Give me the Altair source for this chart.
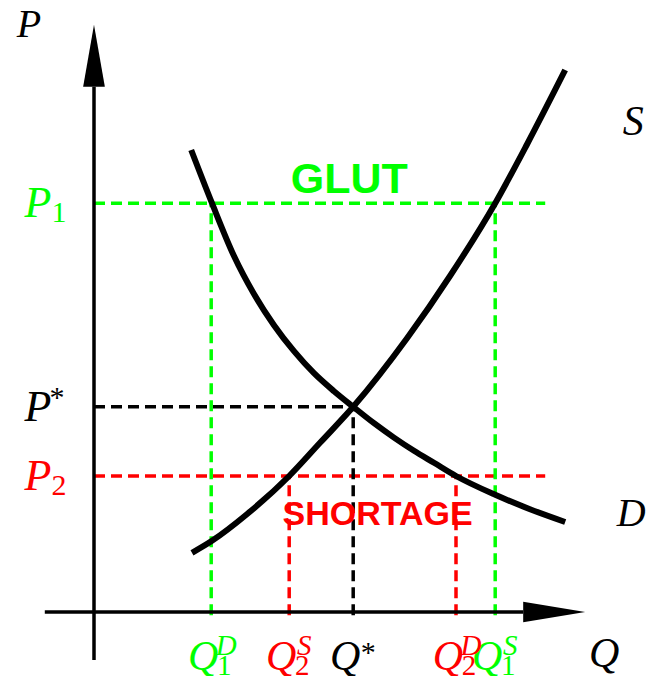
import altair as alt
import pandas as pd

# ---- data (economic units) ----
q_vals = [2.93, 4.88, 6.48, 9.05, 10.03]          # Q1D, Q2S, Q*, Q2D, Q1S
q_sup = ["D", "S", "*", "D", "S"]
q_sub = ["1", "2", "", "2", "1"]
q_colors = ["#00ff00", "#ff0000", "#000000", "#ff0000", "#00ff00"]
q_top = [10.22, 3.4, 5.13, 3.4, 10.22]            # price each quantity belongs to

p_vals = [10.22, 5.13, 3.4]                        # P1, P*, P2
p_sup = ["", "*", ""]
p_sub = ["1", "", "2"]
p_colors = ["#00ff00", "#000000", "#ff0000"]
p_right = [11.28, 6.48, 11.28]                     # right end of the price lines

demand_q = [2.43, 2.95, 3.5, 4.0, 4.5, 5.0, 5.5, 6.0, 6.48, 7.0, 7.5, 8.0, 8.5, 9.05, 10.03, 10.9, 11.78]
demand_p = [11.55, 10.22, 8.9, 7.95, 7.17, 6.52, 5.97, 5.52, 5.13, 4.72, 4.36, 4.03, 3.73, 3.4, 2.93, 2.57, 2.25]
supply_q = [2.45, 2.95, 3.83, 4.88, 5.65, 6.48, 7.83, 8.9, 10.03, 10.83, 11.78]
supply_p = [1.48, 1.78, 2.45, 3.4, 4.23, 5.13, 6.85, 8.4, 10.22, 11.7, 13.55]

axis_q_min, axis_q_tip = -1.23, 12.28
axis_p_min, axis_p_tip = -1.2, 14.68

GREEN, RED, BLACK = "#00ff00", "#ff0000", "#000000"
SERIF = "Liberation Serif"
SANS = "Liberation Sans"

xs = alt.Scale(domain=[-2.15, 13.8], nice=False, zero=False)
ys = alt.Scale(domain=[-1.6, 15.1], nice=False, zero=False)

def X(f):
    return alt.X(f, type="quantitative", scale=xs, axis=None)

def Y(f):
    return alt.Y(f, type="quantitative", scale=ys, axis=None)

qdf = pd.DataFrame({"q": q_vals, "sup": q_sup, "sub": q_sub, "c": q_colors,
                    "top": q_top, "zero": [-0.08] * 5, "main": ["Q"] * 5})
pdf = pd.DataFrame({"p": p_vals, "sup": p_sup, "sub": p_sub, "c": p_colors,
                    "right": p_right, "zero": [0.0] * 3, "main": ["P"] * 3})

curves = pd.concat([
    pd.DataFrame({"q": demand_q, "p": demand_p, "curve": "D", "i": range(len(demand_q))}),
    pd.DataFrame({"q": supply_q, "p": supply_p, "curve": "S", "i": range(len(supply_q))}),
])

dash = [11, 6]

hlines = alt.Chart(pdf).mark_rule(strokeWidth=3.5, strokeDash=dash).encode(
    x=X("zero"), x2="right", y=Y("p"), color=alt.Color("c:N", scale=None))
vlines = alt.Chart(qdf).mark_rule(strokeWidth=3.5, strokeDash=dash).encode(
    x=X("q"), y=Y("zero"), y2="top", color=alt.Color("c:N", scale=None))

lines = alt.Chart(curves).mark_line(strokeWidth=6, color=BLACK, interpolate="monotone",
                                    strokeCap="butt").encode(
    x=X("q"), y=Y("p"), detail="curve:N", order="i:Q")

axes_df = pd.DataFrame({"x1": [0, axis_q_min], "x2": [0, axis_q_tip - 1.55],
                        "y1": [axis_p_min, 0], "y2": [axis_p_tip - 1.55, 0]})
axes = alt.Chart(axes_df).mark_rule(strokeWidth=3.5, color=BLACK).encode(
    x=X("x1"), x2="x2", y=Y("y1"), y2="y2")

arrow_up = alt.Chart(pd.DataFrame({"x": [0], "y": [axis_p_tip - 0.775]})).mark_point(
    shape="M0,-1L0.35,1L-0.35,1Z", size=3844, filled=True, opacity=1, color=BLACK,
    strokeWidth=0).encode(x=X("x"), y=Y("y"))
arrow_right = alt.Chart(pd.DataFrame({"x": [axis_q_tip - 0.775], "y": [0]})).mark_point(
    shape="M1,0L-1,0.33L-1,-0.33Z", size=3844, filled=True, opacity=1, color=BLACK,
    strokeWidth=0).encode(x=X("x"), y=Y("y"))

# ---- labels on Q axis ----
q_main_t = alt.Chart(qdf).mark_text(font=SERIF, fontStyle="italic", fontSize=42,
                                    align="center", baseline="alphabetic", dx=-8, dy=55).encode(
    x=X("q"), y=Y("zero"), text="main:N", color=alt.Color("c:N", scale=None))
q_sup_t = alt.Chart(qdf).transform_filter("datum.sup != '*'").mark_text(
    font=SERIF, fontStyle="italic", fontSize=29, align="center", baseline="alphabetic",
    dx=15, dy=40).encode(x=X("q"), y=Y("zero"), text="sup:N", color=alt.Color("c:N", scale=None))
q_star_t = alt.Chart(qdf).transform_filter("datum.sup == '*'").mark_text(
    font=SERIF, fontSize=30, align="center", baseline="alphabetic",
    dx=15, dy=47).encode(x=X("q"), y=Y("zero"), text="sup:N", color=alt.Color("c:N", scale=None))
q_sub_t = alt.Chart(qdf).mark_text(font=SERIF, fontSize=29, align="center",
                                   baseline="alphabetic", dx=13, dy=60).encode(
    x=X("q"), y=Y("zero"), text="sub:N", color=alt.Color("c:N", scale=None))

# ---- labels on P axis ----
p_main_t = alt.Chart(pdf).mark_text(font=SERIF, fontStyle="italic", fontSize=44,
                                    align="center", baseline="alphabetic", dx=-56, dy=14).encode(
    x=X("zero"), y=Y("p"), text="main:N", color=alt.Color("c:N", scale=None))
p_sub_t = alt.Chart(pdf).mark_text(font=SERIF, fontSize=30, align="center",
                                   baseline="alphabetic", dx=-35, dy=19).encode(
    x=X("zero"), y=Y("p"), text="sub:N", color=alt.Color("c:N", scale=None))
p_star_t = alt.Chart(pdf).mark_text(font=SERIF, fontSize=30, align="center",
                                    baseline="alphabetic", dx=-37, dy=0).encode(
    x=X("zero"), y=Y("p"), text="sup:N", color=alt.Color("c:N", scale=None))

# ---- other text ----
misc = pd.DataFrame({
    "t": ["P", "Q", "S", "D"],
    "x": [0, axis_q_tip, supply_q[-1], demand_q[-1]],
    "y": [axis_p_tip, 0, supply_p[-1], demand_p[-1]],
})
axis_p_t = alt.Chart(misc.iloc[[0]]).mark_text(font=SERIF, fontStyle="italic", fontSize=40,
                                               align="center", baseline="alphabetic", dx=-65, dy=12).encode(
    x=X("x"), y=Y("y"), text="t:N")
axis_q_t = alt.Chart(misc.iloc[[1]]).mark_text(font=SERIF, fontStyle="italic", fontSize=42,
                                               align="center", baseline="alphabetic", dx=19, dy=55).encode(
    x=X("x"), y=Y("y"), text="t:N")
s_t = alt.Chart(misc.iloc[[2]]).mark_text(font=SERIF, fontStyle="italic", fontSize=42,
                                          align="center", baseline="alphabetic", dx=68, dy=65).encode(
    x=X("x"), y=Y("y"), text="t:N")
d_t = alt.Chart(misc.iloc[[3]]).mark_text(font=SERIF, fontStyle="italic", fontSize=40,
                                          align="center", baseline="alphabetic", dx=66, dy=4).encode(
    x=X("x"), y=Y("y"), text="t:N")

words = pd.DataFrame({
    "t": ["GLUT", "SHORTAGE"],
    "x": [(q_vals[0] + q_vals[4]) / 2, (q_vals[1] + q_vals[3]) / 2],
    "y": [p_vals[0], p_vals[2]],
    "c": [GREEN, RED],
})
glut = alt.Chart(words.iloc[[0]]).mark_text(font=SANS, fontWeight="bold", fontSize=43,
                                            align="center", baseline="alphabetic", dx=-4, dy=-10).encode(
    x=X("x"), y=Y("y"), text="t:N", color=alt.Color("c:N", scale=None))
shortage = alt.Chart(words.iloc[[1]]).mark_text(font=SANS, fontWeight="bold", fontSize=34,
                                                align="center", baseline="alphabetic", dx=5, dy=49).encode(
    x=X("x"), y=Y("y"), text="t:N", color=alt.Color("c:N", scale=None))

chart = alt.layer(
    hlines, vlines, lines, axes, arrow_up, arrow_right,
    q_main_t, q_sup_t, q_star_t, q_sub_t,
    p_main_t, p_sub_t, p_star_t,
    axis_p_t, axis_q_t, s_t, d_t, glut, shortage,
).properties(width=638, height=668, padding=0, autosize=alt.AutoSizeParams(type="none")
).configure_view(stroke=None)

chart.save("out.html", embed_options={"renderer": "svg", "actions": False})
